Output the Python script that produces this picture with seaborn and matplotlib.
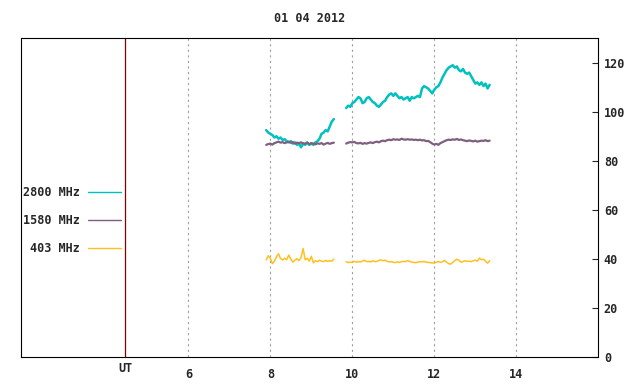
import numpy as np
import pandas as pd
import matplotlib
matplotlib.use("Agg")
import matplotlib.pyplot as plt
from matplotlib.lines import Line2D
import seaborn as sns

#### chart data
title = "01 04 2012"
bands = ["2800 MHz", "1580 MHz", "403 MHz"]
band_colors = ["#00c0c0", "#7f5f7f", "#ffc020"]
ut_mark = 4.46
x_ticks = [6, 8, 10, 12, 14]
y_ticks = [0, 20, 40, 60, 80, 100, 120]

# UT hours, two recording segments
t_seg1 = np.round(np.arange(7.90, 9.551, 0.05), 2)
t_seg2 = np.round(np.arange(9.85, 13.351, 0.05), 2)

# 2800 MHz flux
f2800_seg1 = [92.5, 91.5, 91, 90.5, 89.5, 90, 89, 89.5, 88.5, 88.8,
              88, 87.5, 88, 87, 87.5, 86.5, 87, 85.5, 87, 86.5,
              87.5, 86.5, 87, 86.5, 87.5, 88, 89, 91, 91.5, 92.5,
              92, 94, 96, 97]
f2800_seg2 = [101.5, 102.5, 102, 103.5, 104, 105, 106, 105.5, 103.5, 104,
              105.5, 106, 105, 104, 103.5, 102.5, 102, 103, 104, 104.5,
              106, 107, 107.5, 106.5, 107.5, 106.5, 105.5, 106, 105, 105.5,
              106, 104.5, 106, 105.5, 106, 106.5, 106, 109.5, 110.5, 110,
              109.5, 108.5, 107.5, 109, 110, 110.5, 112, 114, 115.5, 117,
              118, 118.5, 119, 118, 118.5, 117, 116.5, 117.5, 116, 115.5,
              116, 114.5, 113, 111.5, 112, 111, 112, 110.5, 111.5, 109.5,
              111]

# 1580 MHz flux
f1580_seg1 = [86.5, 86.8, 87, 86.6, 87.2, 87.5, 87.8, 87.4, 87.6, 87.2,
              87.5, 87.8, 87.3, 87.6, 87, 87.4, 87.2, 87.5, 87.1, 87,
              87.3, 86.8, 87.2, 87, 86.7, 87.1, 86.9, 87.2, 86.6, 87,
              87.3, 86.9, 87.2, 87.4]
f1580_seg2 = [87.0, 87.4, 87.6, 87.5, 87.7, 87.2, 87.1, 87.3, 86.9, 87.2,
              87.0, 87.3, 87.5, 87.2, 87.6, 87.8, 87.5, 88.0, 88.2, 88.0,
              88.4, 88.6, 88.4, 88.8, 88.6, 88.7, 88.5, 89.0, 88.7, 88.6,
              88.8, 88.6, 88.7, 88.5, 88.6, 88.4, 88.6, 88.3, 88.4, 88.0,
              88.1, 87.6, 87.0, 86.6, 86.9, 86.5, 87.2, 87.6, 88.0, 88.4,
              88.6, 88.5, 88.7, 88.6, 88.9, 88.5, 88.7, 88.4, 88.2, 88.0,
              88.3, 88.1, 87.9, 88.2, 87.8, 88.0, 88.2, 88.1, 88.4, 88.0,
              88.2]

# 403 MHz flux
f403_seg1 = [39.5, 41.2, 40.2, 38.0, 39.0, 40.8, 42.0, 40.0, 39.5, 40.2,
             39.6, 41.5, 39.8, 38.6, 39.4, 40.0, 39.2, 40.5, 44.2, 39.5,
             40.2, 39.0, 41.0, 38.3, 39.2, 38.8, 39.4, 39.0, 38.8, 39.3,
             38.9, 39.2, 39.0, 39.8]
f403_seg2 = [38.8, 38.4, 38.6, 38.5, 38.9, 38.6, 38.8, 38.7, 39.0, 39.4,
             38.8, 38.9, 38.7, 39.2, 38.8, 38.9, 39.3, 39.5, 39.2, 39.4,
             38.9, 38.7, 38.8, 38.6, 38.4, 38.7, 38.5, 38.8, 38.9, 38.8,
             39.2, 38.9, 38.6, 38.5, 38.4, 38.6, 38.8, 38.7, 38.9, 38.6,
             38.5, 38.4, 38.3, 38.2, 38.6, 38.9, 38.5, 38.8, 39.3, 38.6,
             38.0, 37.8, 38.5, 39.2, 39.8, 39.4, 38.6, 38.8, 39.2, 38.9,
             39.0, 38.8, 39.2, 39.4, 39.0, 40.3, 39.6, 39.8, 39.0, 38.2,
             39.2]

# long table for seaborn
frames = []
for band, s1, s2 in zip(bands, [f2800_seg1, f1580_seg1, f403_seg1],
                        [f2800_seg2, f1580_seg2, f403_seg2]):
    frames.append(pd.DataFrame({"t": t_seg1, "v": s1, "band": band, "seg": 1}))
    frames.append(pd.DataFrame({"t": t_seg2, "v": s2, "band": band, "seg": 2}))
df = pd.concat(frames, ignore_index=True)

sns.set_style("white")
plt.rcParams['font.family'] = ['DejaVu Sans Mono']
plt.rcParams['font.weight'] = 'bold'
plt.rcParams['font.size'] = 8.5

fig = plt.figure(figsize=(6.4, 3.84), dpi=100)
ax = fig.add_axes([0.0323, 0.0711, 0.9025, 0.8292])

palette = dict(zip(bands, band_colors))
# noisy traces look thicker in the original, yellow one stays thin
line_w = dict(zip(bands, [1.8, 1.6, 1.1]))
sns.lineplot(data=df, x="t", y="v", hue="band", units="seg", estimator=None,
             hue_order=bands, palette=palette, size="band", sizes=line_w,
             size_order=bands, legend=False, ax=ax)

ax.set_xlim(1.91, 16.0)
ax.set_ylim(0, 130)
ax.set_xlabel("")
ax.set_ylabel("")

# frame
for sp in ax.spines.values():
    sp.set_color("black")
    sp.set_linewidth(0.8)

ax.set_xticks(x_ticks)
ax.set_yticks(y_ticks)
ax.yaxis.tick_right()
ax.tick_params(axis="y", direction="in", length=4, width=0.8, pad=4,
               right=True, left=False, labelsize=8.5)
ax.tick_params(axis="x", length=0, pad=8, labelsize=8.5)
ax.grid(axis="x", color="#a0a0a0", linestyle=(0, (2, 3)), lw=0.8)
ax.grid(axis="y", visible=False)

ax.axvline(ut_mark, color="#800000", lw=0.9)
ax.text(ut_mark, -0.037, "UT", transform=ax.get_xaxis_transform(),
        ha="center", va="center", fontsize=8.5)

handles = [Line2D([], [], color=c, lw=1.0) for c in band_colors]
ax.legend(handles, bands, loc="center right",
          bbox_to_anchor=(121 / 640, 1 - 220.5 / 384), bbox_transform=fig.transFigure,
          frameon=False, markerfirst=False, handlelength=2.8, handletextpad=0.7,
          labelspacing=1.3, borderpad=0, borderaxespad=0, fontsize=8.5)

fig.text(0.4836, 1 - 19 / 384, title, ha="center", va="center", fontsize=8.5)

plt.savefig("out.png", dpi=100)
